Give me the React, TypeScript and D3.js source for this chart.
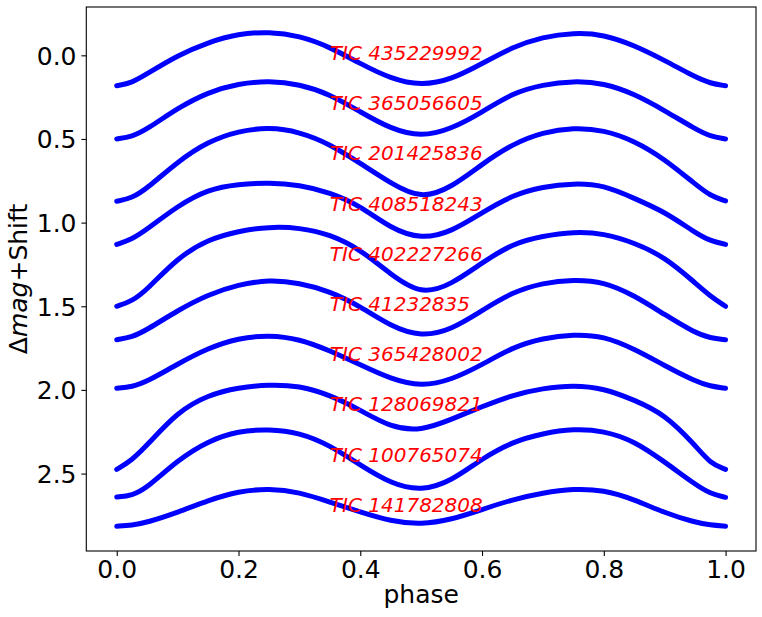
import React, { useEffect, useRef } from "react";
import * as d3 from "d3";

// phase grid the light curves were read at
const phase = [
  0, 0.025, 0.05, 0.1, 0.15, 0.2, 0.25, 0.3, 0.35, 0.4, 0.45, 0.5,
  0.55, 0.6, 0.65, 0.7, 0.75, 0.8, 0.85, 0.9, 0.95, 0.975, 1.0,
];

// delta mag + shift, one array per star
const tic435229992 = [0.182, 0.165, 0.11, 0.0, -0.078, -0.129, -0.141, -0.117, -0.05, 0.05, 0.14, 0.182, 0.145, 0.05, -0.05, -0.11, -0.135, -0.125, -0.06, 0.03, 0.13, 0.168, 0.182];
const tic365056605 = [0.5, 0.486, 0.442, 0.315, 0.22, 0.168, 0.153, 0.172, 0.232, 0.338, 0.44, 0.488, 0.44, 0.34, 0.225, 0.175, 0.153, 0.166, 0.23, 0.33, 0.44, 0.485, 0.5];
const tic201425836 = [0.872, 0.854, 0.795, 0.635, 0.515, 0.452, 0.43, 0.457, 0.53, 0.645, 0.765, 0.86, 0.79, 0.65, 0.53, 0.46, 0.432, 0.446, 0.51, 0.62, 0.77, 0.84, 0.87];
const tic408518243 = [1.13, 1.1, 1.04, 0.9, 0.8, 0.77, 0.761, 0.775, 0.82, 0.9, 1.035, 1.1, 1.055, 0.94, 0.835, 0.785, 0.765, 0.775, 0.855, 0.935, 1.06, 1.11, 1.13];
const tic402227266 = [1.5, 1.47, 1.4, 1.21, 1.1, 1.05, 1.025, 1.03, 1.07, 1.16, 1.31, 1.432, 1.37, 1.24, 1.125, 1.08, 1.055, 1.064, 1.12, 1.205, 1.36, 1.44, 1.5];
const tic41232835 = [1.7, 1.685, 1.64, 1.525, 1.43, 1.37, 1.342, 1.36, 1.41, 1.5, 1.62, 1.683, 1.64, 1.525, 1.415, 1.36, 1.34, 1.353, 1.435, 1.55, 1.66, 1.69, 1.7];
const tic365428002 = [1.99, 1.982, 1.95, 1.845, 1.75, 1.69, 1.672, 1.695, 1.765, 1.85, 1.935, 1.98, 1.94, 1.85, 1.745, 1.69, 1.668, 1.678, 1.755, 1.855, 1.948, 1.978, 1.99];
const tic128069821 = [2.475, 2.42, 2.33, 2.13, 2.03, 1.985, 1.968, 1.975, 2.03, 2.12, 2.225, 2.245, 2.175, 2.1, 2.03, 1.99, 1.972, 1.99, 2.06, 2.145, 2.33, 2.44, 2.475];
const tic100765074 = [2.64, 2.632, 2.585, 2.42, 2.305, 2.245, 2.234, 2.255, 2.33, 2.45, 2.56, 2.605, 2.545, 2.41, 2.31, 2.26, 2.232, 2.244, 2.305, 2.43, 2.565, 2.62, 2.642];
const tic141782808 = [2.815, 2.809, 2.792, 2.733, 2.66, 2.605, 2.59, 2.61, 2.67, 2.73, 2.785, 2.805, 2.775, 2.715, 2.655, 2.615, 2.59, 2.598, 2.655, 2.735, 2.792, 2.808, 2.815];

const names = [
  "TIC 435229992", "TIC 365056605", "TIC 201425836", "TIC 408518243", "TIC 402227266",
  "TIC 41232835", "TIC 365428002", "TIC 128069821", "TIC 100765074", "TIC 141782808",
];
const shifts = [0, 0.3, 0.6, 0.9, 1.2, 1.5, 1.8, 2.1, 2.4, 2.7];
const curves = [
  tic435229992, tic365056605, tic201425836, tic408518243, tic402227266,
  tic41232835, tic365428002, tic128069821, tic100765074, tic141782808,
];

const xTicks = [0, 0.2, 0.4, 0.6, 0.8, 1.0];
const yTicks = [0, 0.5, 1.0, 1.5, 2.0, 2.5];

export default function App() {
  const ref = useRef(null);

  useEffect(() => {
    const width = 762;
    const height = 617;
    const margin = { top: 7, right: 6, bottom: 66, left: 86.3 };
    const font = "DejaVu Sans, sans-serif";

    const svg = d3.select(ref.current);
    svg.selectAll("*").remove();

    const x = d3
      .scaleLinear()
      .domain([-0.05, 1.05])
      .range([margin.left, width - margin.right]);

    // matplotlib style 5% margin around the data
    const [lo, hi] = d3.extent(curves.flat());
    const pad = (hi - lo) * 0.05;
    const y = d3
      .scaleLinear()
      .domain([lo - pad, hi + pad])
      .range([margin.top, height - margin.bottom]);

    const line = d3
      .line()
      .x((d) => x(d[0]))
      .y((d) => y(d[1]))
      .curve(d3.curveBasis);

    curves.forEach((mag) => {
      svg
        .append("path")
        .datum(phase.map((p, i) => [p, mag[i]]))
        .attr("fill", "none")
        .attr("stroke", "#0000ff")
        .attr("stroke-width", 5)
        .attr("stroke-linejoin", "round")
        .attr("stroke-linecap", "round")
        .attr("d", line);
    });

    names.forEach((name, i) => {
      svg
        .append("text")
        .attr("x", x(0.35))
        .attr("y", y(shifts[i] + 0.028))
        .attr("fill", "#ff0000")
        .attr("font-family", font)
        .attr("font-style", "italic")
        .attr("font-size", 20)
        .text(name);
    });

    const xAxis = svg
      .append("g")
      .attr("transform", `translate(0,${height - margin.bottom})`)
      .call(
        d3
          .axisBottom(x)
          .tickValues(xTicks)
          .tickFormat(d3.format(".1f"))
          .tickSize(4.9)
          .tickPadding(4.9)
      );

    const yAxis = svg
      .append("g")
      .attr("transform", `translate(${margin.left},0)`)
      .call(
        d3
          .axisLeft(y)
          .tickValues(yTicks)
          .tickFormat(d3.format(".1f"))
          .tickSize(4.9)
          .tickPadding(4.9)
      );

    [xAxis, yAxis].forEach((g) => {
      g.select(".domain").remove();
      g.attr("font-family", font).attr("font-size", 25);
      g.selectAll("line").attr("stroke", "#000").attr("stroke-width", 1.1);
      g.selectAll("text").attr("fill", "#000");
    });
    xAxis.selectAll("text").attr("dy", "0.68em");
    yAxis.selectAll("text").attr("dy", "0.36em");

    svg
      .append("rect")
      .attr("x", margin.left)
      .attr("y", margin.top)
      .attr("width", width - margin.right - margin.left)
      .attr("height", height - margin.bottom - margin.top)
      .attr("fill", "none")
      .attr("stroke", "#000")
      .attr("stroke-width", 1.1);

    svg
      .append("text")
      .attr("x", (margin.left + width - margin.right) / 2)
      .attr("y", 603)
      .attr("text-anchor", "middle")
      .attr("font-family", font)
      .attr("font-size", 25)
      .text("phase");

    const ylab = svg
      .append("text")
      .attr("transform", `translate(27,${(margin.top + height - margin.bottom) / 2}) rotate(-90)`)
      .attr("text-anchor", "middle")
      .attr("font-family", font)
      .attr("font-size", 25);
    ylab.append("tspan").text("\u0394");
    ylab.append("tspan").attr("font-style", "italic").text("mag");
    ylab.append("tspan").text("+Shift");
  }, []);

  return (
    <svg
      ref={ref}
      width={762}
      height={617}
      style={{ position: "absolute", left: 0, top: 0, background: "#fff" }}
    />
  );
}
